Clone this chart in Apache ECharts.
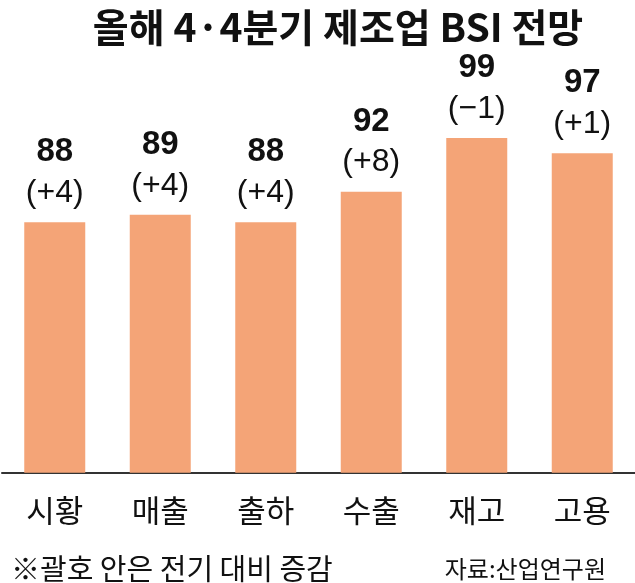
<!DOCTYPE html>
<html>
<head>
<meta charset="utf-8">
<script src="https://cdn.jsdelivr.net/npm/echarts@6/dist/echarts.min.js"></script>
<style>
html,body{margin:0;padding:0;background:#fff;}
#chart{width:635px;height:583px;}
</style>
</head>
<body>
<div id="chart"></div>
<script>
const titleText = '올해 4·4분기 제조업 BSI 전망';
const categories = ['시황', '매출', '출하', '수출', '재고', '고용'];
const values = [88, 89, 88, 92, 99, 97];
const changes = ['(+4)', '(+4)', '(+4)', '(+8)', '(−1)', '(+1)'];
const noteText = '※괄호 안은 전기 대비 증감';
const sourceText = '자료:산업연구원';

const KR = '"Noto Sans CJK KR", sans-serif';
const NUM = '"Liberation Sans", Arial, sans-serif';

const chart = echarts.init(document.getElementById('chart'), null, {renderer: 'canvas'});
chart.setOption({
  backgroundColor: '#ffffff',
  animation: false,
  title: [
    {text: titleText, left: 333, top: -1, textAlign: 'center',
     textStyle: {fontFamily: KR, fontWeight: 'bold', fontSize: 39, color: '#111', lineHeight: 46}},
    {text: noteText, left: 6, top: 548,
     textStyle: {fontFamily: KR, fontWeight: 'normal', fontSize: 29, color: '#111', lineHeight: 32}},
    {text: sourceText, right: 24, top: 549,
     textStyle: {fontFamily: KR, fontWeight: 'normal', fontSize: 24, color: '#111', lineHeight: 30}}
  ],
  grid: {left: 2, right: 0, top: 130.2, bottom: 110.3, containLabel: false},
  xAxis: {
    type: 'category',
    data: categories,
    axisLine: {show: true, lineStyle: {color: '#333', width: 2}},
    axisTick: {show: false},
    axisLabel: {fontFamily: KR, fontSize: 31, color: '#111', margin: 21, lineHeight: 34}
  },
  yAxis: {
    type: 'value',
    min: 55.4,
    max: 100,
    show: false,
    splitLine: {show: false}
  },
  series: [{
    type: 'bar',
    data: values,
    barWidth: 61,
    itemStyle: {color: '#F4A477'},
    label: {
      show: true,
      position: 'top',
      distance: 8,
      formatter: function (p) { return '{v|' + p.value + '}\n{c|' + changes[p.dataIndex] + '}'; },
      rich: {
        v: {fontFamily: NUM, fontWeight: 'bold', fontSize: 33, color: '#111', lineHeight: 40, align: 'center'},
        c: {fontFamily: NUM, fontWeight: 'normal', fontSize: 32, color: '#111', lineHeight: 42, align: 'center'}
      }
    }
  }]
});
</script>
</body>
</html>
